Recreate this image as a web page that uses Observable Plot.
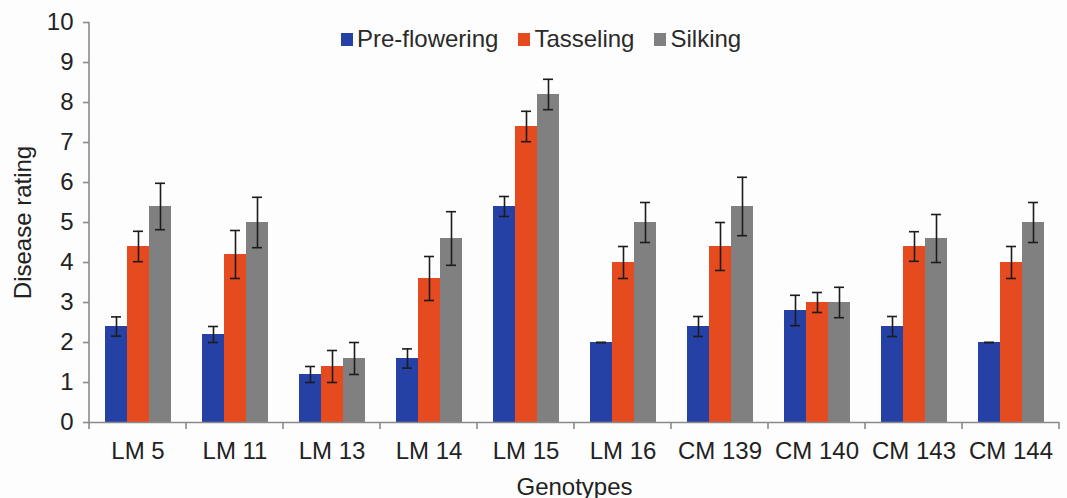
<!DOCTYPE html>
<html><head><meta charset="utf-8">
<script src="https://cdn.jsdelivr.net/npm/d3@7"></script>
<script src="https://cdn.jsdelivr.net/npm/@observablehq/plot@0.6"></script>
<style>
body{margin:0;background:#fff;font-family:"Liberation Sans",Arial,sans-serif;}
#wrap{position:relative;width:1067px;height:498px;background:#fdfdfd;}
#legend{position:absolute;top:25px;left:341px;display:flex;align-items:center;font-size:24px;color:#2a2a2a;white-space:nowrap;}
#legend .item{display:flex;align-items:center;margin-right:20px;}
#legend .sw{width:12px;height:13px;margin-right:4px;}
</style></head><body><div id="wrap"><div id="legend"></div></div>
<script>
const genotypes = ["LM 5","LM 11","LM 13","LM 14","LM 15","LM 16","CM 139","CM 140","CM 143","CM 144"];
const stages = ["Pre-flowering","Tasseling","Silking"];
const stageColors = ["#2541a6","#e64a1f","#808080"];
const preFlowering = [2.4,2.2,1.2,1.6,5.4,2.0,2.4,2.8,2.4,2.0];
const tasseling    = [4.4,4.2,1.4,3.6,7.4,4.0,4.4,3.0,4.4,4.0];
const silking      = [5.4,5.0,1.6,4.6,8.2,5.0,5.4,3.0,4.6,5.0];
const preErr = [0.24,0.2,0.2,0.24,0.25,0,0.25,0.38,0.25,0];
const tasErr = [0.38,0.6,0.4,0.55,0.38,0.4,0.6,0.25,0.37,0.4];
const silErr = [0.58,0.63,0.4,0.67,0.38,0.5,0.73,0.38,0.6,0.5];
const yTicks = [0,1,2,3,4,5,6,7,8,9,10];

const series = [preFlowering, tasseling, silking];
const errs = [preErr, tasErr, silErr];
const data = genotypes.flatMap((g, i) => stages.map((s, k) => ({
  genotype: g, stage: s, value: series[k][i], err: errs[k][i]
})));

const errColor = "#1c1c1c";
const chart = Plot.plot({
  width: 1067, height: 498,
  marginLeft: 88, marginRight: 8, marginTop: 22, marginBottom: 76,
  style: {fontFamily: "Liberation Sans, Arial, sans-serif", background: "transparent", color: "#222"},
  fx: {domain: genotypes, padding: 0},
  x: {domain: stages, paddingInner: 0, paddingOuter: 0.7, axis: null},
  y: {domain: [0, 10]},
  color: {domain: stages, range: stageColors},
  marks: [
    Plot.barY(data, {fx: "genotype", x: "stage", y: "value", fill: "stage"}),
    Plot.ruleX(data, {fx: "genotype", x: "stage", y1: d => d.value - d.err, y2: d => d.value + d.err, stroke: errColor, strokeWidth: 1.6}),
    Plot.tickY(data, {fx: "genotype", x: "stage", y: d => d.value + d.err, insetLeft: 6, insetRight: 6, stroke: errColor, strokeWidth: 1.6}),
    Plot.tickY(data, {fx: "genotype", x: "stage", y: d => d.value - d.err, insetLeft: 6, insetRight: 6, stroke: errColor, strokeWidth: 1.6}),
    Plot.ruleY([0], {stroke: "#8a8a8a", strokeWidth: 1.6}),
    Plot.axisY({ticks: yTicks, tickSize: 6, tickPadding: 10, fontSize: 24, stroke: "#8a8a8a", strokeWidth: 1.6,
      label: "Disease rating", labelAnchor: "center", labelArrow: "none", labelOffset: 76}),
    Plot.axisFx({anchor: "bottom", tickSize: 0, tickPadding: 19, fontSize: 24,
      label: "Genotypes", labelAnchor: "center", labelArrow: "none", labelOffset: 72})
  ]
});
document.getElementById("wrap").appendChild(chart);

// axis line and category boundary ticks from the library's scales
const fx = chart.scale("fx"), y = chart.scale("y");
const step = fx.apply(genotypes[1]) - fx.apply(genotypes[0]);
const bounds = genotypes.map(g => fx.apply(g)).concat([fx.apply(genotypes[genotypes.length - 1]) + step]);
const svg = d3.select(chart);
const y0 = y.apply(0), y10 = y.apply(10);
svg.append("line").attr("x1", bounds[0]).attr("x2", bounds[0]).attr("y1", y0).attr("y2", y10)
  .attr("stroke", "#8a8a8a").attr("stroke-width", 1.6);
svg.append("g").selectAll("line").data(bounds).join("line")
  .attr("x1", d => d).attr("x2", d => d).attr("y1", y0).attr("y2", y0 + 7)
  .attr("stroke", "#8a8a8a").attr("stroke-width", 1.6);

// legend
const legend = d3.select("#legend");
stages.forEach((s, k) => {
  const it = legend.append("div").attr("class", "item");
  it.append("div").attr("class", "sw").style("background", stageColors[k]);
  it.append("span").text(s);
});
</script>
</body></html>
